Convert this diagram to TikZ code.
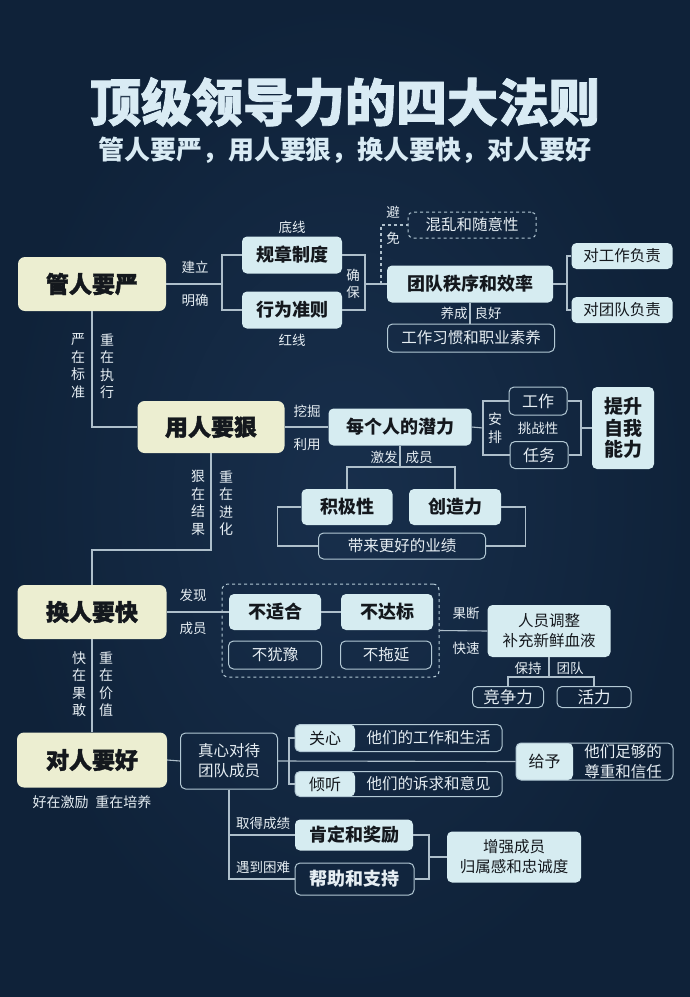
\documentclass[tikz,border=0pt]{standalone}
\usepackage{fontspec}
\setmainfont{Noto Sans CJK SC}
\newfontfamily\heavyfont{Noto Sans CJK SC}[FakeBold=1.6]
\usepackage{xcolor}
\definecolor{bgdark}{HTML}{0F2239}
\definecolor{bglight}{HTML}{182F4C}
\definecolor{creambox}{HTML}{ECEED1}
\definecolor{cyanbox}{HTML}{D6ECF1}
\definecolor{wire}{HTML}{AEBFCB}
\definecolor{rim}{HTML}{B3C9D5}
\definecolor{inktext}{HTML}{14181D}
\definecolor{paletext}{HTML}{E6EEF3}
\definecolor{titletext}{HTML}{D9EBF4}

\begin{document}
\begin{tikzpicture}[x=1pt,y=-1pt,
    headline/.style={text=titletext,font=\heavyfont\bfseries\fontsize{51}{55}\selectfont},
    subline/.style={text=titletext,font=\bfseries\fontsize{26}{30}\selectfont},
    mainbox/.style={fill=creambox,rounded corners=7pt,inner sep=0pt,text=inktext,
      font=\heavyfont\bfseries\fontsize{23}{27}\selectfont},
    subbox/.style={fill=cyanbox,rounded corners=5pt,inner sep=0pt,text=inktext,align=center,
      font=\bfseries\fontsize{18}{22}\selectfont},
    plainbox/.style={fill=cyanbox,rounded corners=5pt,inner sep=0pt,text=inktext,align=center,
      font=\fontsize{15.5}{20}\selectfont},
    rimbox/.style={draw=rim,line width=1pt,rounded corners=5pt,inner sep=0pt,text=paletext,
      align=center,font=\fontsize{15.5}{20}\selectfont},
    lbl/.style={text=paletext,inner sep=0pt,align=center,font=\fontsize{13.5}{17.5}\selectfont},
    vlbl/.style={text=paletext,inner sep=0pt,align=center,font=\fontsize{14}{17.5}\selectfont},
    conn/.style={draw=wire,line width=1.1pt}]
  \useasboundingbox (0,0) rectangle (690,997);
  \shade[inner color=bglight,outer color=bgdark] (0,0) rectangle (690,997);

  % title
  \node[headline] (title) at (345,102) {顶级领导力的四大法则};
  \node[subline] (subtitle) at (345,150) {管人要严，用人要狠，换人要快，对人要好};

  % manage strictly
  \node[mainbox,minimum width=148,minimum height=54] (guan) at (92,284) {管人要严};
  \node[subbox,minimum width=100,minimum height=37] (rules) at (292,255) {规章制度};
  \node[subbox,minimum width=100,minimum height=37] (conduct) at (292,310) {行为准则};
  \node[lbl] (bottomline) at (292,227) {底线};
  \node[lbl] (redline) at (292,340) {红线};
  \node[lbl] (build) at (195,267) {建立};
  \node[lbl] (clarify) at (195,300) {明确};
  \coordinate (gj) at (222,284);
  \draw[conn] (guan.east) -- (gj);
  \draw[conn] (rules.west) -| (gj) |- (conduct.west);
  \node[subbox,minimum width=166,minimum height=37] (order) at (470,284) {团队秩序和效率};
  \coordinate (qb) at (365,284);
  \draw[conn] (rules.east) -| (qb) |- (conduct.east);
  \draw[conn] (qb) -- (order.west);
  \node[lbl] (ensure) at (353,284) {确\\保};
  \node[rimbox,dashed,minimum width=128,minimum height=26] (chaos) at (472,225) {混乱和随意性};
  \coordinate (bm) at (381,284);
  \draw[conn,dashed] (bm) |- (chaos.west);
  \node[lbl] (avoida) at (393,212) {避};
  \node[lbl] (avoidb) at (393,238) {免};
  \node[plainbox,minimum width=101,minimum height=26] (dutywork) at (622,256) {对工作负责};
  \node[plainbox,minimum width=101,minimum height=26] (dutyteam) at (622,310) {对团队负责};
  \coordinate (rj) at (567,284);
  \draw[conn] (order.east) -- (rj);
  \draw[conn] (dutywork.west) -| (rj) |- (dutyteam.west);
  \node[rimbox,minimum width=167,minimum height=28] (habit) at (471,338) {工作习惯和职业素养};
  \draw[conn] (order.south) -- (order.south |- habit.north);
  \node[lbl] (foster) at (454,313) {养成};
  \node[lbl] (good) at (488,313) {良好};

  % use ruthlessly
  \node[mainbox,minimum width=147,minimum height=52] (yong) at (211,427) {用人要狠};
  \draw[conn] (guan.south) |- (yong.west);
  \node[vlbl] (strictstd) at (78,366) {严\\在\\标\\准};
  \node[vlbl] (focusexec) at (107,366) {重\\在\\执\\行};
  \node[subbox,minimum width=143,minimum height=37] (potential) at (400,427) {每个人的潜力};
  \draw[conn] (yong.east) -- (potential.west);
  \node[lbl] (dig) at (307,411) {挖掘};
  \node[lbl] (exploit) at (307,444) {利用};
  \node[rimbox,font=\fontsize{16}{20}\selectfont,minimum width=58,minimum height=28] (job) at (538,401) {工作};
  \node[rimbox,font=\fontsize{16}{20}\selectfont,minimum width=58,minimum height=27] (task) at (539,455) {任务};
  \coordinate (aj) at (483,428);
  \draw[conn] (potential.east) -- (aj);
  \draw[conn] (job.west) -| (aj) |- (task.west);
  \node[vlbl] (arrange) at (495,428) {安\\排};
  \node[lbl] (challenge) at (538,428) {挑战性};
  \node[subbox,font=\bfseries\fontsize{19}{21.5}\selectfont,minimum width=62,minimum height=82] (selfup) at (623,428) {提升\\自我\\能力};
  \coordinate (sj) at (581,428);
  \draw[conn] (job.east) -| (sj) |- (task.east);
  \draw[conn] (sj) -- (selfup.west);
  \node[subbox,minimum width=91,minimum height=36] (active) at (347,507) {积极性};
  \node[subbox,minimum width=92,minimum height=36] (create) at (455,507) {创造力};
  \coordinate (pj) at (400,467);
  \draw[conn] (potential.south) -- (pj);
  \draw[conn] (active.north) |- (pj) -| (create.north);
  \node[lbl] (inspire) at (384,457) {激发};
  \node[lbl] (member) at (419,457) {成员};
  \node[rimbox,minimum width=167,minimum height=26] (perf) at (402,546) {带来更好的业绩};
  \draw[conn] (active.west) -- ++(-24,0) |- (perf.west);
  \draw[conn] (create.east) -- ++(24,0) |- (perf.east);

  % replace quickly
  \node[mainbox,minimum width=149,minimum height=54] (huan) at (92,612) {换人要快};
  \coordinate (yj) at (92,550);
  \draw[conn] (yong.south) |- (yj) -- (huan.north);
  \node[vlbl] (hardres) at (198,503) {狠\\在\\结\\果};
  \node[vlbl] (focusevo) at (226,503) {重\\在\\进\\化};
  \node[draw=rim,dashed,line width=1pt,rounded corners=6pt,minimum width=217,minimum height=93] (frame) at (330.5,630.5) {};
  \node[subbox,minimum width=92,minimum height=36] (unfit) at (275,612) {不适合};
  \node[subbox,minimum width=92,minimum height=36] (below) at (387,612) {不达标};
  \draw[conn] (huan.east) -- (unfit.west);
  \draw[conn] (unfit.east) -- (below.west);
  \node[lbl] (find) at (193,595) {发现};
  \node[lbl] (staff) at (193,628) {成员};
  \node[rimbox,minimum width=93,minimum height=28] (nohes) at (275,655) {不犹豫};
  \node[rimbox,minimum width=91,minimum height=28] (nodelay) at (386,655) {不拖延};
  \node[plainbox,minimum width=123,minimum height=52] (adjust) at (549,631) {人员调整\\补充新鲜血液};
  \draw[conn] (frame.east) -- (adjust.west);
  \node[lbl] (decisive) at (466,613) {果断};
  \node[lbl] (fast) at (466,648) {快速};
  \node[rimbox,font=\fontsize{16.5}{20}\selectfont,minimum width=71,minimum height=21] (compete) at (508,697) {竞争力};
  \node[rimbox,font=\fontsize{16.5}{20}\selectfont,minimum width=74,minimum height=21] (vigor) at (594,697) {活力};
  \coordinate (kj) at (549,677);
  \draw[conn] (adjust.south) -- (kj);
  \draw[conn] (compete.north) |- (kj) -| (vigor.north);
  \node[lbl] (keep) at (528,668) {保持};
  \node[lbl] (team) at (570,668) {团队};

  % treat well
  \node[mainbox,minimum width=150,minimum height=55] (dui) at (92,760) {对人要好};
  \draw[conn] (huan.south) -- (dui.north);
  \node[vlbl] (fastbold) at (79,684) {快\\在\\果\\敢};
  \node[vlbl] (focusval) at (106,684) {重\\在\\价\\值};
  \node[lbl,font=\fontsize{14}{17}\selectfont] (duinote) at (92,802) {好在激励\enspace 重在培养};
  \node[rimbox,minimum width=97,minimum height=56] (sincere) at (229,761) {真心对待\\团队成员};
  \draw[conn] (dui.east) -- (sincere.west);
  \node[rimbox,minimum width=207,minimum height=27,
    path picture={\fill[cyanbox] (path picture bounding box.north west) rectangle ([xshift=60pt]path picture bounding box.south west);}] (care) at (398.5,738) {};
  \node[text=inktext,font=\fontsize{16}{20}\selectfont] (carekey) at (325,738) {关心};
  \node[lbl,font=\fontsize{15.5}{20}\selectfont] (caretext) at (428.5,738) {他们的工作和生活};
  \node[rimbox,minimum width=207,minimum height=25,
    path picture={\fill[cyanbox] (path picture bounding box.north west) rectangle ([xshift=60pt]path picture bounding box.south west);}] (listen) at (398.5,784) {};
  \node[text=inktext,font=\fontsize{16}{20}\selectfont] (listenkey) at (325,784) {倾听};
  \node[lbl,font=\fontsize{15.5}{20}\selectfont] (listentext) at (428.5,784) {他们的诉求和意见};
  \node[rimbox,minimum width=157,minimum height=37,
    path picture={\fill[cyanbox] (path picture bounding box.north west) rectangle ([xshift=57pt]path picture bounding box.south west);}] (give) at (594.5,761.5) {};
  \node[text=inktext,font=\fontsize{16}{20}\selectfont] (givekey) at (544.5,761.5) {给予};
  \node[lbl,font=\fontsize{15.5}{20}\selectfont] (givetext) at (623,761.5) {他们足够的\\尊重和信任};
  \coordinate (cj) at (289,761);
  \draw[conn] (sincere.east) -- (give.west);
  \draw[conn] (care.west) -| (cj) |- (listen.west);
  \node[subbox,minimum width=118,minimum height=31] (praise) at (354,835) {肯定和奖励};
  \node[rimbox,font=\bfseries\fontsize{18}{22}\selectfont,minimum width=119,minimum height=32] (support) at (354.5,879) {帮助和支持};
  \draw[conn] (sincere.south) |- (praise.west);
  \draw[conn] (sincere.south) |- (support.west);
  \node[lbl] (achieve) at (263,823) {取得成绩};
  \node[lbl] (trouble) at (263,867) {遇到困难};
  \node[plainbox,minimum width=134,minimum height=51] (belong) at (514,857) {增强成员\\归属感和忠诚度};
  \coordinate (bj) at (429,857);
  \draw[conn] (praise.east) -| (bj) |- (support.east);
  \draw[conn] (bj) -- (belong.west);
\end{tikzpicture}
\end{document}
